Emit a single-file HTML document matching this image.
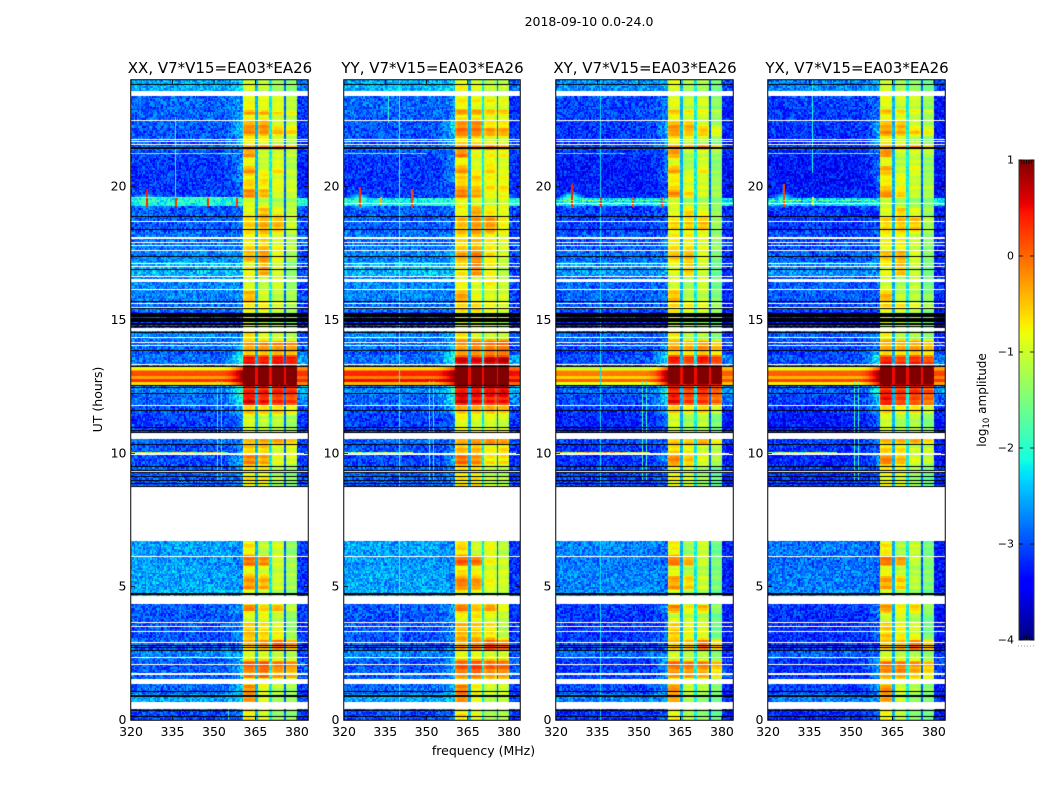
<!DOCTYPE html>
<html lang="en">
<head>
<meta charset="utf-8">
<title>2018-09-10 spectrograms</title>
<style>
html,body{margin:0;padding:0;background:#fff}
#figure{position:relative;width:1050px;height:800px;overflow:hidden;background:#fff;font-family:"DejaVu Sans","Liberation Sans",sans-serif}
canvas{position:absolute;display:block}
#overlay{position:absolute;left:0;top:0}
#overlay text{font-family:"DejaVu Sans","Liberation Sans",sans-serif;fill:#000}
</style>
</head>
<body>
<div id="figure">
  <canvas id="panel0" width="177" height="640" style="left:131px;top:80px"></canvas>
  <canvas id="panel1" width="176" height="640" style="left:344px;top:80px"></canvas>
  <canvas id="panel2" width="177" height="640" style="left:556px;top:80px"></canvas>
  <canvas id="panel3" width="177" height="640" style="left:768px;top:80px"></canvas>
  <canvas id="colorbar" width="15" height="480" style="left:1019px;top:160px"></canvas>
  <svg id="overlay" width="1050" height="800" xmlns="http://www.w3.org/2000/svg">
    <text x="589" y="26" text-anchor="middle" font-size="12.5">2018-09-10 0.0-24.0</text>
    <text x="483.5" y="755" text-anchor="middle" font-size="12.5">frequency (MHz)</text>
    <text transform="translate(102,399.5) rotate(-90)" text-anchor="middle" font-size="12.5">UT (hours)</text>
    <text transform="translate(986,400) rotate(-90)" text-anchor="middle" font-size="12">log<tspan font-size="8.5" dy="3">10</tspan><tspan dy="-3"> amplitude</tspan></text>
  </svg>
</div>
<script>
/* ---------- labels and ticks ---------- */
const panelTitles = ['XX, V7*V15=EA03*EA26','YY, V7*V15=EA03*EA26','XY, V7*V15=EA03*EA26','YX, V7*V15=EA03*EA26'];
const panelNames = ['xx','yy','xy','yx'];
const freqTicks = [320,335,350,365,380];
const utTicks = [0,5,10,15,20];
const colorTicks = [1,0,-1,-2,-3,-4];

/* ---------- time segments: top edge (UT hours) and levels (log10 amplitude) ---------- */
const segmentTopUT = [24,23.4,23.1,22.875,22.69,22.5,22.2,21.9,21.56,21.375,21.075,20.775,20.475,20.175,19.875,19.575,19.24,18.9,18.3,17.625,17.175,16.65,16.125,15.675,15.3,14.625,14.25,13.875,13.65,13.275,13.16,13.05,12.9,12.79,12.675,12.56,12.19,11.81,11.44,10.8,10.31,9.94,9.56,8.74,6.71,6.15,5.775,5.4,4.875,4.65,4.35,4.05,3.675,3,2.625,2.25,1.95,1.54,1.35,0.94,0.41];
const subbandA = [-.85,-.8,-.8,-.45,-.9,-.4,-.3,-.75,-.4,-.35,-.85,-.4,-.7,-.6,-.3,-.9,-.85,-.6,-.7,-.5,-.8,-.9,-.5,-.6,-.9,-.7,-.4,-.5,.2,1.4,1.4,1.4,1.4,1.4,1.4,.1,.25,-.55,-.9,-.5,-.6,-.25,-.75,-.9,-.7,-.2,-.8,-.35,-.9,-.9,-.3,-.9,-.55,-.5,-.9,-.15,-.3,-.9,-.3,-.4,-.75];
const subbandB = [-.95,-.8,-.9,-.5,-.9,-.35,-.35,-.8,-.3,-.9,-1,-.85,-.7,-.7,-.5,-1,-.5,-.45,-.6,-.35,-.45,-1,-.9,-.6,-.9,-.9,-.3,-.45,.15,1.4,1.4,1.4,1.4,1.4,1.4,.1,.15,-.6,-1,-.4,-.6,-.4,-.75,-.9,-1,-.3,-.9,-.45,-1,-1,-.6,-.8,-.65,-.35,-.9,-.1,-.2,-.9,-.8,-.9,-.9];
const subbandC = [-1.1,-.85,-.9,-.7,-1,-.8,-.5,-1,-.2,-.9,-.9,-.7,-.9,-.8,-.9,-1.1,-.8,-.5,-.85,-.8,-.9,-.9,-1,-.8,-1.05,-1,-.3,-.4,.2,1.4,1.4,1.4,1.4,1.4,1.4,.1,.05,-.6,-1,-.4,-.9,-.8,-1.1,-1,-.9,-.9,-1,-.9,-1.15,-1,-.5,-1,-.8,-.1,-1,-.25,-.4,-1,-1,-1.2,-1.2];
const subbandD = [-1.2,-1,-1.05,-.8,-1.1,-.9,-.6,-1.1,-.5,-.95,-1.1,-1,-1,-.9,-.95,-1.1,-1,-.95,-1.05,-1.1,-1.25,-1.2,-1.1,-1,-1.2,-1.1,-.35,-.45,.15,1.4,1.4,1.4,1.4,1.4,1.4,.05,0,-.75,-1.15,-.55,-.85,-.85,-1.25,-1.2,-1.2,-1.1,-1.1,-1.1,-1.3,-1.2,-1,-1.2,-1.2,-.35,-1.1,-.35,-.5,-1.1,-1.1,-1.2,-1.25];
const quietLevel = [-2.4,-2.75,-2.75,-2.75,-2.8,-2.8,-2.85,-2.85,-2.6,-2.9,-3,-3,-3,-3,-2.95,-2,-2.8,-2.8,-2.7,-2.6,-2.35,-2.6,-2.6,-2.7,-2.95,-2.6,-2.7,-2.8,-2.7,-.8,-.25,.15,-.3,.3,-.6,-2.6,-2.75,-2.85,-2.95,-2.75,-2.85,-2.9,-2.8,-2.8,-2.45,-2.5,-2.45,-2.45,-2.35,-2.8,-2.8,-2.85,-2.85,-2.8,-2.6,-2.85,-2.8,-2.8,-2.75,-2.45,-2.9];
const shoulderLevel = [-2.2,-2.5,-2.5,-2.5,-2.5,-2.2,-2.1,-2.3,-2.2,-2.6,-2.5,-2.5,-2.4,-2.7,-2.7,-1.85,-2.7,-2.7,-2.6,-2.4,-2.3,-2.6,-2.6,-2.7,-2.9,-2.5,-2.4,-2,-1.7,.2,.8,1,1,1,.6,-1.6,-1.9,-2.2,-2.6,-2.5,-2.6,-2.3,-2.5,-2.6,-2.6,-2.6,-2.6,-2.6,-2.4,-2.6,-2.3,-2.6,-2.5,-2.6,-2.4,-2.2,-2.3,-2.6,-2.2,-2.3,-2.6];
const rightLevel = [-2.7,-3,-3,-3,-3,-3,-3,-3,-2.8,-3,-3.1,-3.1,-3.1,-3.1,-3,-1.9,-2.9,-2.9,-2.9,-2.9,-2.9,-2.9,-2.9,-3,-3.1,-2.9,-2.8,-2.8,-2.4,-.2,0,.3,0,.35,-.2,-2.3,-2.6,-2.9,-3,-2.9,-3,-3,-2.9,-3,-3,-3,-3,-3,-2.9,-3,-3,-3,-3,-3,-2.9,-2.8,-2.7,-3,-3,-2.9,-3];

/* per-panel offsets of each subband (XX, YY, XY, YX) */
const panelOffsetA = [0,.1,-.05,-.05];
const panelOffsetB = [0,.1,-.2,-.15];
const panelOffsetC = [0,.15,-.05,-.1];
const panelOffsetD = [0,.25,-.25,-.2];
const panelOffsetQuiet = [-.13,-.13,-.28,-.33];
const eventOffset = [0,.2,-.25,-.1];

/* narrow gaps between subbands */
const gapLevels = [-2.5,-2.2,-2.9];

/* fine horizontal banding seen inside the subbands */
const fineBanding = [.1,-.08,.04,.14,-.12,-.03,.12,-.1,.06,-.14,.09,.02,-.07,.13,-.11,.05,-.02,.11,-.13,.07,-.05,.15,-.09,.03];

/* flagged rows, UT hours */
const whiteFrom = [23.4,22.46,21.75,21.675,21.56,18.675,18.04,17.89,17.775,17.59,17.1,16.99,16.61,16.425,16.125,15.6,15.45,14.59,14.325,14.14,14.025,13.31,11.775,10.54,9.94,9.3,6.7125,6.11,4.35,3.64,3.49,3.3,2.89,2.325,2.06,1.69,1.35,.41];
const whiteTo = [23.59,22.5,21.79,21.71,21.6,18.71,18.11,17.925,17.81,17.625,17.14,17.025,16.65,16.54,16.16,15.64,15.49,14.7,14.36,14.175,14.06,13.35,11.81,10.76,10,9.34,8.74,6.15,4.65,3.675,3.525,3.34,2.925,2.36,2.1,1.76,1.54,.675];
const blackFrom = [23.81,21.41,18.86,18.375,17.36,16.875,15.675,15.41,15.11,14.925,14.81,14.74,14.51,13.84,13.24,12.525,12.45,12.225,11.59,10.95,10.84,10.76,10.31,9.49,9.34,9.26,9.11,8.96,8.85,8.74,4.69,2.775,2.7,2.59,1.05,.86,.34,.11];
const blackTo = [23.85,21.49,18.9,18.41,17.4,16.91,15.71,15.45,15.26,15.075,14.89,14.775,14.55,13.875,13.275,12.56,12.49,12.26,11.625,10.99,10.875,10.8,10.35,9.525,9.375,9.3,9.15,9,8.89,8.775,4.76,2.81,2.74,2.625,1.09,.94,.375,.15];

/* white RFI-flag row in the YY, XY and YX panels */
const flagRowPanels = [1,2,3];
const flagRowUT = [19.4,19.4,19.4];

/* narrowband interference: panel, frequency (MHz), UT range, level */
const lineP = [0,0,0,0,1,1,1,1,1,2,2,2,3,3,3,0,0,0,0,1,1,2,2,2,2,3,3];
const lineF = [336,351,352.5,355,340,336,351,352.5,344.5,336,351,352.5,336,351,352.5,325.5,336,347.5,358,325.5,333,325.5,336,347.5,358,325.5,336];
const lineFrom = [19.6,9,9,0,0,22.4,9,9,19.2,0,9,9,20.5,9,9,19.25,19.25,19.25,19.25,19.25,19.3,19.25,19.25,19.25,19.25,19.25,19.3];
const lineTo = [22.6,12.7,12.7,.7,24,23.4,12.7,12.7,19.9,24,12.7,12.7,24,12.7,12.7,19.9,19.6,19.6,19.6,20,19.6,20.1,19.6,19.6,19.6,20.1,19.6];
const lineLevel = [-2,-1.9,-2.2,-1.9,-1.95,-2,-1.8,-2.1,.2,-2.25,-1.8,-1.9,-2.1,-1.8,-1.9,.4,.3,.3,.3,.3,-.4,.4,.4,.2,.2,.2,-.8];

/* compact RFI bursts with a soft glow: panel, frequency, UT, peak level */
const spotP = [0,1,2,3];
const spotF = [325.5,325.5,325.5,325.5];
const spotUT = [19.45,19.45,19.5,19.5];
const spotLevel = [-1.5,-1.5,-1.4,-1.7];

/* horizontal streaks: panel, UT, frequency range, level */
const streakP = [0,1,2,3,0,1,2,3,2,3,0];
const streakUT = [21.28,21.28,21.28,21.28,10.05,10.05,10.05,10.05,19.5,19.5,19.62];
const streakFrom = [320,320,320,320,320,320,320,320,320,320,320];
const streakTo = [360,350,345,360,355,345,354,345,360,360,360];
const streakLevel = [-1.5,-1.6,-1.8,-1.5,-1.1,-1.4,-.8,-1.3,-1.8,-1.7,-1.6];

/* fixed speckle tile */
const speckleTile = [.12,-.31,.05,.27,-.18,-.04,.33,-.26,.09,-.12,.21,-.37,.02,.15,-.22,.29,-.08,-.29,.18,.07,-.15,.36,-.33,-.02,.24,-.11,.13,-.24,.3,-.06,-.35,.1,.2,-.17,.03,-.27,.34,.08,-.2,.16,-.01,-.3,.26,.11,-.13,-.38,.22,.04,-.23,.31,-.09,.14,-.28,.19,-.05,.37,-.16,-.32,.06,.25,-.1,.17,-.25,.01,.28,-.19,-.36,.23,.1,-.07,.32,-.21,.12,-.14,-.34,.2,.05,-.03,.27,-.29,.15,.35,-.12,-.2,.08,-.26,.18,.3,-.08,-.15,.02,.24,-.31,.13,-.04,.21,-.24];

/* ---------- scales ---------- */
const panelLeft = [131,344,556,768];
const panelWidth = [177,176,177,177];
const plotTop = 80, plotHeight = 640;
const cbarLeft = 1019, cbarTop = 160, cbarWidth = 15, cbarHeight = 480;
const freqMin = 320, freqMax = 384, utMin = 0, utMax = 24, levelMin = -4, levelMax = 1;
function xScale(panel, f){ return (f - freqMin) / (freqMax - freqMin) * panelWidth[panel]; }
function yScale(ut){ return (utMax - ut) / (utMax - utMin) * plotHeight; }
function cbarScale(v){ return (levelMax - v) / (levelMax - levelMin) * cbarHeight; }

function jet(v){
  var t = Math.min(1, Math.max(0, (v - levelMin) / (levelMax - levelMin)));
  var r = Math.min(1, Math.max(0, t < .35 ? 0 : t < .66 ? (t - .35) / .31 : t < .89 ? 1 : 1 - (t - .89) / .11 * .5));
  var g = Math.min(1, Math.max(0, t < .125 ? 0 : t < .375 ? (t - .125) / .25 : t < .64 ? 1 : t < .91 ? 1 - (t - .64) / .27 : 0));
  var b = Math.min(1, Math.max(0, t < .11 ? .5 + t / .11 * .5 : t < .34 ? 1 : t < .65 ? 1 - (t - .34) / .31 : 0));
  return 'rgb(' + Math.round(r * 255) + ',' + Math.round(g * 255) + ',' + Math.round(b * 255) + ')';
}

/* subband edges in MHz */
const bandEdges = [360.5,365.2,366,370.2,371,375.3,376,380];
const shoulderStart = 352;
const softEdge = .06;

function segmentIndex(ut){
  for (var i = segmentTopUT.length - 1; i >= 0; i--) { if (ut < segmentTopUT[i] && (i === segmentTopUT.length - 1 || ut >= segmentTopUT[i + 1])) return i; }
  return 0;
}
/* blends a subband level softly into its neighbouring time segment */
function softLevel(arr, seg, ut){
  var top = segmentTopUT[seg];
  var bot = seg + 1 < segmentTopUT.length ? segmentTopUT[seg + 1] : 0;
  var v = arr[seg];
  if (top - ut < softEdge && seg > 0) {
    var w = .5 * (1 - (top - ut) / softEdge);
    v = arr[seg] * (1 - w) + arr[seg - 1] * w;
  } else if (ut - bot < softEdge && seg + 1 < segmentTopUT.length) {
    var w2 = .5 * (1 - (ut - bot) / softEdge);
    v = arr[seg] * (1 - w2) + arr[seg + 1] * w2;
  }
  /* deepen the contrast between yellow rows and orange blocks */
  return v > .5 ? v : -.75 + (v + .75) * 1.3;
}
function subbandLevel(level, f, lo, hi){
  var t = (f - (lo + hi) / 2) / ((hi - lo) / 2);
  return level - .28 * t * t * t * t;
}
function cellLevel(p, seg, f, ut, noise, band){
  var event = quietLevel[seg] > -1;
  var q = quietLevel[seg] + (event ? eventOffset[p] : panelOffsetQuiet[p]);
  var n = event ? noise * .1 : noise * 1.15;
  var level;
  if (f < bandEdges[0]) {
    level = q + n;
    if (f >= shoulderStart) {
      var s = (f - shoulderStart) / (bandEdges[0] - shoulderStart);
      level = q + (shoulderLevel[seg] + (event ? 0 : panelOffsetQuiet[p]) - q) * s * s + n;
    }
    for (var i = 0; i < spotP.length; i++) {
      if (spotP[i] !== p) continue;
      var dx = (f - spotF[i]) / 4.5, dy = (ut - spotUT[i]) / .3;
      var d2 = dx * dx + dy * dy;
      if (d2 < 1) level = Math.max(level, spotLevel[i] - 1.4 * Math.sqrt(d2) + n * .5);
    }
    return level;
  }
  if (f < bandEdges[1]) return subbandLevel(softLevel(subbandA, seg, ut) + panelOffsetA[p], f, bandEdges[0], bandEdges[1]) + noise * .15 + band;
  if (f < bandEdges[2]) return (event ? .5 : gapLevels[0]) + n * .35;
  if (f < bandEdges[3]) return subbandLevel(softLevel(subbandB, seg, ut) + panelOffsetB[p], f, bandEdges[2], bandEdges[3]) + noise * .15 + band;
  if (f < bandEdges[4]) return (event ? .5 : gapLevels[1]) + n * .35;
  if (f < bandEdges[5]) return subbandLevel(softLevel(subbandC, seg, ut) + panelOffsetC[p], f, bandEdges[4], bandEdges[5]) + noise * .15 + band;
  if (f < bandEdges[6]) return (event ? .5 : gapLevels[2]) + n * .35;
  if (f < bandEdges[7]) return subbandLevel(softLevel(subbandD, seg, ut) + panelOffsetD[p], f, bandEdges[6], bandEdges[7]) + noise * .15 + band;
  return rightLevel[seg] + (event ? eventOffset[p] : panelOffsetQuiet[p]) + n;
}

function drawPanel(p){
  var ctx = document.getElementById('panel' + p).getContext('2d');
  var W = panelWidth[p];
  ctx.fillStyle = '#fff';
  ctx.fillRect(0, 0, W, plotHeight);
  var dt = .06, df = .5, n = speckleTile.length;
  var rows = Math.round((utMax - utMin) / dt), cols = Math.round((freqMax - freqMin) / df);
  for (var r = 0; r < rows; r++) {
    var ut = utMin + r * dt;
    var seg = segmentIndex(ut + dt / 2);
    var band = fineBanding[((r >> 1) + p * 5) % fineBanding.length];
    var y0 = Math.round(yScale(ut + dt)), y1 = Math.round(yScale(ut));
    if (y1 <= y0) continue;
    for (var c = 0; c < cols; c++) {
      var f = freqMin + c * df;
      var noise = speckleTile[(r * 31 + c * 17 + ((r * c) >> 3) + p * 11) % n];
      var x0 = Math.round(xScale(p, f)), x1 = Math.round(xScale(p, f + df));
      ctx.fillStyle = jet(cellLevel(p, seg, f + df / 2, ut + dt / 2, noise, band));
      ctx.fillRect(x0, y0, x1 - x0, y1 - y0);
    }
  }
  /* interference lines */
  for (var i = 0; i < lineF.length; i++) {
    if (lineP[i] !== p) continue;
    var lx = Math.round(xScale(p, lineF[i]));
    var ly0 = Math.round(yScale(lineTo[i])), ly1 = Math.round(yScale(lineFrom[i]));
    ctx.fillStyle = jet(lineLevel[i]);
    ctx.fillRect(lx, ly0, lineLevel[i] > -1 ? 2 : 1, ly1 - ly0);
  }
  for (var j = 0; j < streakUT.length; j++) {
    if (streakP[j] !== p) continue;
    var sy = Math.round(yScale(streakUT[j]));
    for (var f2 = streakFrom[j]; f2 < streakTo[j]; f2 += df) {
      var sn = speckleTile[(Math.round(f2 * 2) * 13 + j * 7) % n];
      var sx0 = Math.round(xScale(p, f2)), sx1 = Math.round(xScale(p, f2 + df));
      ctx.fillStyle = jet(streakLevel[j] + sn * 2.2);
      ctx.fillRect(sx0, sy, sx1 - sx0, 1);
    }
  }
  /* flagged rows */
  ctx.fillStyle = '#fff';
  for (var a = 0; a < whiteFrom.length; a++) {
    var wy0 = Math.round(yScale(whiteTo[a])), wy1 = Math.round(yScale(whiteFrom[a]));
    ctx.fillRect(0, wy0, W, Math.max(1, wy1 - wy0));
  }
  for (var fr = 0; fr < flagRowPanels.length; fr++) {
    if (flagRowPanels[fr] === p) ctx.fillRect(0, Math.round(yScale(flagRowUT[fr])), W, 1);
  }
  ctx.fillStyle = '#000';
  for (var b = 0; b < blackFrom.length; b++) {
    var by0 = Math.round(yScale(blackTo[b])), by1 = Math.round(yScale(blackFrom[b]));
    ctx.fillRect(0, by0, W, Math.max(1, by1 - by0));
  }
}

function drawColorbar(){
  var ctx = document.getElementById('colorbar').getContext('2d');
  for (var i = 0; i < cbarHeight; i++) {
    var v = levelMax - (i + .5) / cbarHeight * (levelMax - levelMin);
    ctx.fillStyle = jet(v);
    ctx.fillRect(0, Math.round(cbarScale(v) - .5), cbarWidth, 1);
  }
}

/* ---------- axes ---------- */
var svg = document.getElementById('overlay');
var NS = 'http://www.w3.org/2000/svg';
function svgNode(tag, props){
  var el = document.createElementNS(NS, tag);
  for (var k in props) el.setAttribute(k, props[k]);
  return el;
}
function tickLine(parent, x1, y1, x2, y2){
  var ln = svgNode('line', {x1:x1, y1:y1, x2:x2, y2:y2, stroke:'#000', 'stroke-width':.8});
  
  
  parent.appendChild(ln);
}
function drawAxes(p){
  var g = svgNode('g', {});
  
  
  svg.appendChild(g);
  var L = panelLeft[p], W = panelWidth[p], B = plotTop + plotHeight;
  var frame = svgNode('rect', {x:L - .25, y:plotTop - .25, width:W + .5, height:plotHeight + .5, fill:'none', stroke:'#000', 'stroke-width':1});
  
  
  g.appendChild(frame);
  var title = svgNode('text', {x:L + W / 2 + .5, y:73, 'text-anchor':'middle', 'font-size':15});
  
  
  title.textContent = panelTitles[p];
  g.appendChild(title);
  freqTicks.forEach(function(f){
    var x = L + xScale(p, f);
    tickLine(g, x, B, x, B - 4);
    tickLine(g, x, plotTop, x, plotTop + 4);
    var t = svgNode('text', {x:x, y:736, 'text-anchor':'middle', 'font-size':12.5});
    
    
    t.textContent = String(f);
    g.appendChild(t);
  });
  utTicks.forEach(function(u){
    var y = plotTop + yScale(u);
    tickLine(g, L, y, L + 4, y);
    tickLine(g, L + W, y, L + W - 4, y);
    var t = svgNode('text', {x:L - 4.5, y:y + 4, 'text-anchor':'end', 'font-size':12.5});
    
    
    t.textContent = String(u);
    g.appendChild(t);
  });
}
function drawColorbarAxis(){
  var g = svgNode('g', {});
  
  
  svg.appendChild(g);
  var frame = svgNode('rect', {x:cbarLeft, y:cbarTop, width:cbarWidth, height:cbarHeight, fill:'none', stroke:'#333', 'stroke-width':1});
  
  
  g.appendChild(frame);
  colorTicks.forEach(function(v){
    var y = cbarTop + cbarScale(v);
    tickLine(g, cbarLeft, y, cbarLeft + 4, y);
    tickLine(g, cbarLeft + cbarWidth, y, cbarLeft + cbarWidth - 4, y);
    var t = svgNode('text', {x:cbarLeft - 5, y:y + 3.5, 'text-anchor':'end', 'font-size':11});
    
    
    t.textContent = v < 0 ? '\u2212' + Math.abs(v) : String(v);
    g.appendChild(t);
  });
  for (var i = 1; i <= 5; i++) {
    var mx = cbarLeft + i * 2.5;
    tickLine(g, mx, cbarTop, mx, cbarTop + 4);
    tickLine(g, mx, cbarTop + cbarHeight, mx, cbarTop + cbarHeight - 4);
  }
  for (var d = 0; d < 6; d++) {
    var dot = svgNode('rect', {x:1018 + d * 3, y:645.5, width:1, height:1, fill:'#999'});
    
    
    g.appendChild(dot);
  }
}
for (var p = 0; p < 4; p++) { drawPanel(p); drawAxes(p); }
drawColorbar();
drawColorbarAxis();
</script>
</body>
</html>
